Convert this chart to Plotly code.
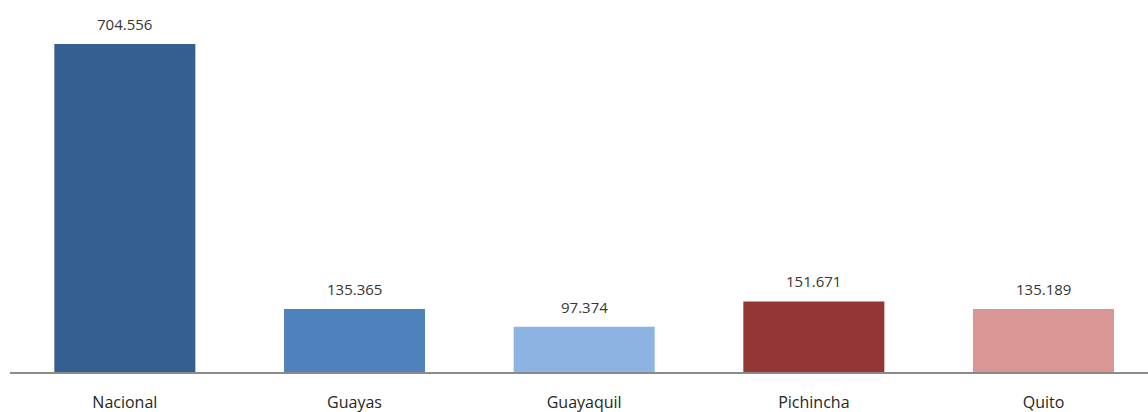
import plotly.graph_objects as go

categories = ["Nacional", "Guayas", "Guayaquil", "Pichincha", "Quito"]
values = [704556, 135365, 97374, 151671, 135189]
value_labels = ["704.556", "135.365", "97.374", "151.671", "135.189"]
colors = ["#365F91", "#4F81BD", "#8DB3E2", "#943634", "#D99694"]

x = list(range(len(categories)))
fig = go.Figure(go.Bar(x=x, y=values, marker=dict(color=colors, line=dict(width=0)),
                       width=0.614, hoverinfo="skip"))

for xi, v, t in zip(x, values, value_labels):
    fig.add_annotation(x=xi, y=v, text=t, showarrow=False, yanchor="bottom", yshift=8,
                       font=dict(family="Open Sans, sans-serif", size=15, color="#363636"))

fig.update_layout(
    width=1148, height=412,
    margin=dict(l=10, r=0, t=0, b=40),
    plot_bgcolor="white", paper_bgcolor="white",
    showlegend=False,
    xaxis=dict(range=[-0.5, 4.455], tickmode="array", tickvals=x, ticktext=categories,
               showline=True, linecolor="#8a8a8a", linewidth=2, showgrid=False, zeroline=False,
               ticks="", ticklabelstandoff=15,
               tickfont=dict(family="Open Sans, sans-serif", size=16, color="#262626")),
    yaxis=dict(range=[0, 799100], visible=False, showgrid=False, zeroline=False),
)
fig.write_html("out.html")
